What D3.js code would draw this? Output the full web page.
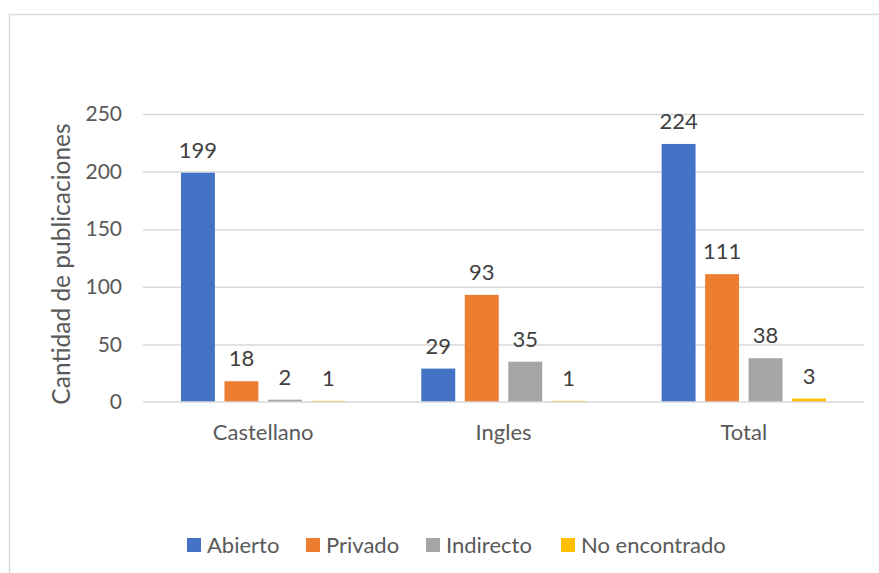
<!DOCTYPE html>
<html>
<head>
<meta charset="utf-8">
<script src="https://cdn.jsdelivr.net/npm/d3@7"></script>
<style>
  body { margin: 0; background: #fff; }
  svg text { font-family: Lato, "Open Sans", sans-serif; }
</style>
</head>
<body>
<svg id="chart" width="879" height="573"></svg>
<script>
// data
const categories = ["Castellano", "Ingles", "Total"]
const seriesNames = ["Abierto", "Privado", "Indirecto", "No encontrado"]
const abierto = [199, 29, 224]
const privado = [18, 93, 111]
const indirecto = [2, 35, 38]
const noEncontrado = [1, 1, 3]
const yTicks = [0, 50, 100, 150, 200, 250]

const seriesValues = [abierto, privado, indirecto, noEncontrado]
const colors = ["#4472c4", "#ed7d31", "#a5a5a5", "#ffc000"]

let svg = d3.select("#chart")

// chart area border
svg.append("rect")
    .attr("x", 9.5).attr("y", 14.5)
    .attr("width", 900).attr("height", 600)
    .attr("fill", "none")
    .attr("stroke", "#d9d9d9")
    .attr("stroke-width", 1.5)

let plot = { left: 143, right: 864, top: 114, bottom: 402 }

let yScale = d3.scaleLinear()
    .domain([0, 250])
    .range([plot.bottom, plot.top])

let x0 = d3.scaleBand()
    .domain(categories)
    .range([plot.left, plot.right])
    .paddingInner(0.316)
    .paddingOuter(0.158)

let x1 = d3.scaleBand()
    .domain(seriesNames)
    .range([0, x0.bandwidth()])
    .paddingInner(0.22)

// gridlines
svg.append("g")
    .attr("class", "ygrid")
    .attr("transform", `translate(${plot.left},0)`)
    .call(d3.axisLeft(yScale).tickValues(yTicks.slice(1))
        .tickSize(-(plot.right - plot.left)).tickFormat(""))
    .call(g => g.select(".domain").remove())
    .selectAll("line").attr("stroke", "#d9d9d9").attr("stroke-width", 1.5)

// y axis labels
svg.append("g")
    .attr("transform", `translate(${plot.left},0)`)
    .call(d3.axisLeft(yScale).tickValues(yTicks).tickSize(0).tickPadding(21))
    .call(g => g.select(".domain").remove())
    .selectAll("text")
    .attr("fill", "#595959")
    .style("font-size", "21px")

// bars
let groups = svg.selectAll(".grp")
    .data(categories)
    .enter()
    .append("g")
    .attr("class", "grp")
    .attr("transform", d => `translate(${x0(d)},0)`)

seriesNames.forEach(function (s, si) {
    groups.append("rect")
        .attr("x", x1(s))
        .attr("width", x1.bandwidth())
        .attr("y", (d, i) => yScale(seriesValues[si][i]))
        .attr("height", (d, i) => plot.bottom - yScale(seriesValues[si][i]))
        .attr("fill", colors[si])

    groups.append("text")
        .attr("x", x1(s) + x1.bandwidth() / 2)
        .attr("y", (d, i) => yScale(seriesValues[si][i]) - 15)
        .attr("text-anchor", "middle")
        .attr("fill", "#404040")
        .style("font-size", "22px")
        .text((d, i) => seriesValues[si][i])
})

// x axis
svg.append("line")
    .attr("x1", plot.left).attr("x2", plot.right)
    .attr("y1", plot.bottom).attr("y2", plot.bottom)
    .attr("stroke", "#d9d9d9").attr("stroke-width", 1.5)

svg.append("g")
    .attr("transform", `translate(0,${plot.bottom})`)
    .call(d3.axisBottom(x0).tickSize(0).tickPadding(22))
    .call(g => g.select(".domain").remove())
    .selectAll("text")
    .attr("fill", "#595959")
    .style("font-size", "22px")

// y axis title
svg.append("text")
    .attr("transform", `translate(70,${(plot.top + plot.bottom) / 2 + 6}) rotate(-90)`)
    .attr("text-anchor", "middle")
    .attr("fill", "#595959")
    .style("font-size", "24.5px")
    .text("Cantidad de publicaciones")

// legend
let legendX = [187, 306, 426, 561]
let legend = svg.selectAll(".leg")
    .data(seriesNames)
    .enter()
    .append("g")
    .attr("class", "leg")
    .attr("transform", (d, i) => `translate(${legendX[i]},545)`)

legend.append("rect")
    .attr("x", 0).attr("y", -7)
    .attr("width", 14).attr("height", 14)
    .attr("fill", (d, i) => colors[i])

legend.append("text")
    .attr("x", 20).attr("y", 0)
    .attr("dy", "0.35em")
    .attr("fill", "#595959")
    .style("font-size", "22px")
    .text(d => d)
</script>
</body>
</html>
